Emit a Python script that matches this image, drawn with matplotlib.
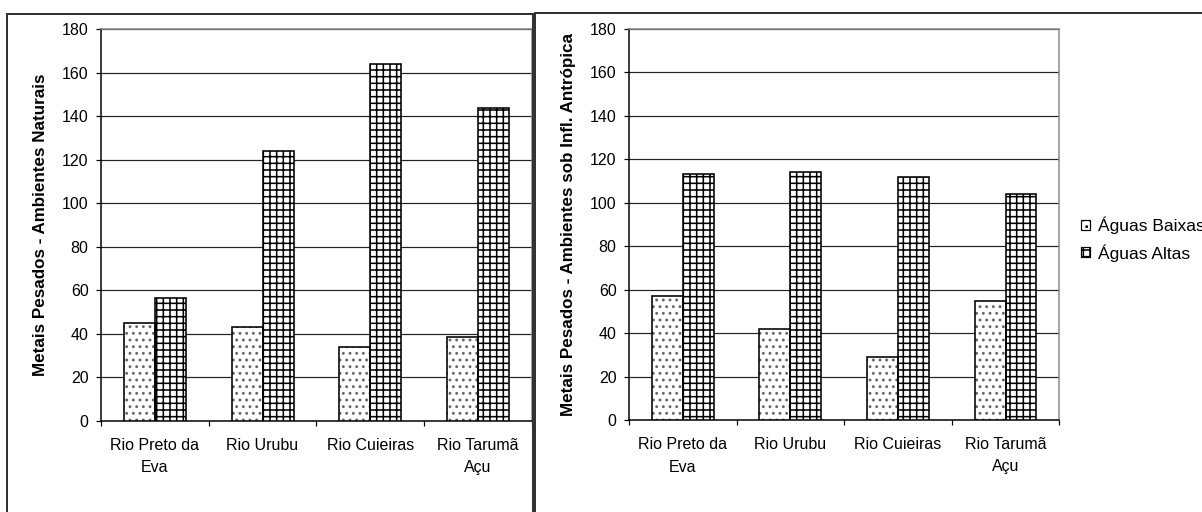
import numpy as np
import matplotlib.pyplot as plt
from matplotlib.patches import Rectangle, Patch

plt.rcParams['font.family'] = ['Liberation Sans', 'DejaVu Sans']
plt.rcParams['hatch.linewidth'] = 1.4

# dados
rios = ['Rio Preto da\nEva', 'Rio Urubu', 'Rio Cuieiras', 'Rio Tarumã\nAçu']
series = ['Águas Baixas', 'Águas Altas']
naturais_baixas = [45, 43, 34, 38.5]
naturais_altas = [56.5, 124, 164, 144]
antropica_baixas = [57, 42, 29, 55]
antropica_altas = [113, 114, 112, 104]
ylabels = ['Metais Pesados - Ambientes Naturais',
           'Metais Pesados - Ambientes sob Infl. Antrópica']

W, H, DPI = 1202, 512, 80
fig = plt.figure(figsize=(W / DPI, H / DPI), dpi=DPI)


def pt(px):
    # pixels -> pontos
    return px * 72 / DPI


# molduras dos dois graficos
fig.patches.append(Rectangle((7 / W, -0.01), 526 / W, 1 - 14 / H + 0.01,
                             transform=fig.transFigure, fill=False, ec='#333333', lw=pt(2)))
fig.patches.append(Rectangle((535 / W, -0.01), 0.6, 1 - 13 / H + 0.01,
                             transform=fig.transFigure, fill=False, ec='#333333', lw=pt(2)))

ax1 = fig.add_axes([101 / W, 1 - 421 / H, 430.7 / W, 391.7 / H])
ax2 = fig.add_axes([629 / W, 1 - 420.3 / H, 430.3 / W, 391.6 / H])


def draw(ax, baixas, altas, ylabel):
    x = np.arange(len(rios))
    w = 0.288
    # Aguas Baixas: pontilhado cinza
    ax.bar(x - w / 2, baixas, w, color='white', edgecolor='#666666', hatch='..', lw=0, zorder=3)
    ax.bar(x - w / 2, baixas, w, fill=False, edgecolor='black', lw=pt(1.6), zorder=4)
    # Aguas Altas: quadriculado
    ax.bar(x + w / 2, altas, w, color='white', edgecolor='black', hatch='++', lw=pt(1.6), zorder=3)
    ax.set_xlim(-0.5, len(rios) - 0.5)
    ax.set_ylim(0, 180)
    ax.set_yticks(range(0, 181, 20))
    ax.yaxis.grid(True, color='#222222', lw=pt(1.2))
    ax.set_axisbelow(True)
    ax.set_xticks(x)
    ax.set_xticklabels(rios, linespacing=1.6)
    ax.set_xticks(np.arange(len(rios) + 1) - 0.5, minor=True)
    ax.tick_params(axis='x', which='major', length=0, pad=pt(17), labelsize=pt(16))
    ax.tick_params(axis='x', which='minor', length=pt(5), width=pt(1.2), direction='out')
    ax.tick_params(axis='y', length=pt(5), width=pt(1.2), pad=pt(7.5), labelsize=pt(16))
    for s in ['top', 'right']:
        ax.spines[s].set_color('#888888')
        ax.spines[s].set_linewidth(pt(1.5))
    for s in ['left', 'bottom']:
        ax.spines[s].set_color('black')
        ax.spines[s].set_linewidth(pt(1.5))
    ax.set_ylabel(ylabel, fontsize=pt(17), fontweight='bold', labelpad=pt(14))


draw(ax1, naturais_baixas, naturais_altas, ylabels[0])
draw(ax2, antropica_baixas, antropica_altas, ylabels[1])

handles = [Patch(facecolor='white', edgecolor='black', hatch='..', lw=pt(1.2)),
           Patch(facecolor='white', edgecolor='black', hatch='++', lw=pt(1.2))]
fig.legend(handles, series, loc='upper left', bbox_to_anchor=(1081 / W, 1 - 217 / H),
           frameon=False, fontsize=pt(17.4), handlelength=0.5, handleheight=0.5,
           handletextpad=0.45, labelspacing=0.55, borderpad=0, borderaxespad=0)

fig.savefig('out.png', dpi=DPI)
